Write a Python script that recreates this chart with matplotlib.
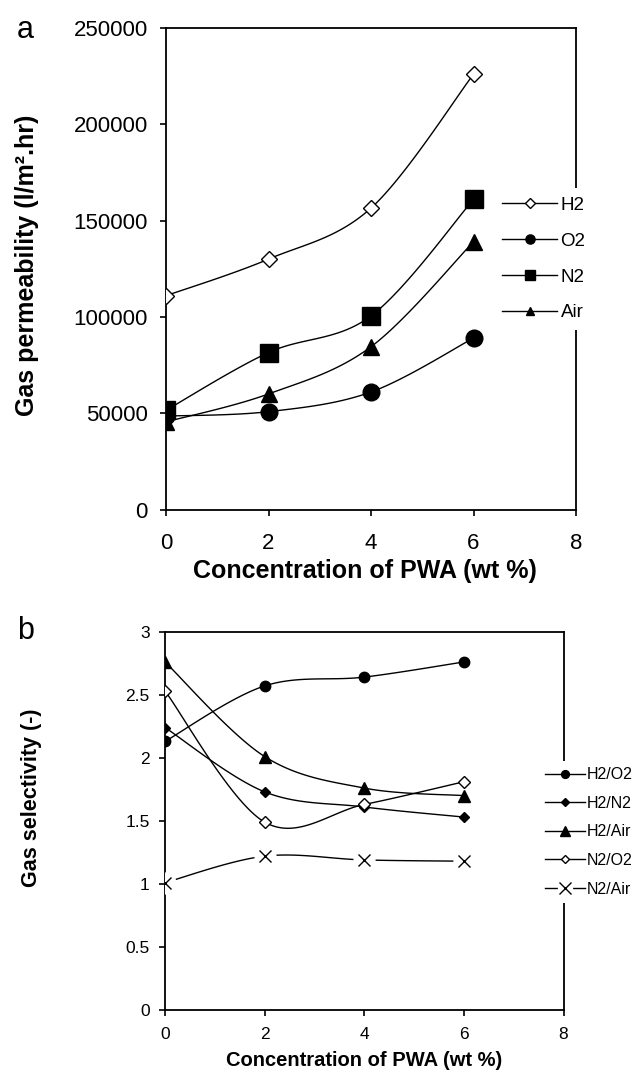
import numpy as np
import matplotlib
matplotlib.use('Agg')
import matplotlib.pyplot as plt
from matplotlib.lines import Line2D
from matplotlib.legend_handler import HandlerTuple
from matplotlib.ticker import FuncFormatter

plt.rcParams['font.family'] = ['Liberation Sans', 'DejaVu Sans']

# Painel a - permeabilidade
pwa = [0, 2, 4, 6]
h2 = [111000, 130000, 156500, 226000]
o2 = [48500, 50800, 61000, 89000]
n2 = [51500, 81500, 100500, 161000]
air = [45500, 60000, 84500, 139000]

# Painel b - seletividade
h2_o2 = [2.13, 2.57, 2.64, 2.76]
h2_n2 = [2.24, 1.73, 1.61, 1.53]
h2_air = [2.76, 2.01, 1.76, 1.70]
n2_o2 = [2.53, 1.49, 1.63, 1.81]
n2_air = [1.01, 1.22, 1.19, 1.18]

W, H = 632, 1071


def smooth(x, y, n=40):
    # curva suavizada (bezier tipo Excel) passando pelos pontos
    pts = np.column_stack([x, y]).astype(float)
    P = np.vstack([pts[0], pts, pts[-1]])
    segs = []
    t = np.linspace(0, 1, n)[:, None]
    for i in range(1, len(P) - 2):
        p0, p1, p2, p3 = P[i - 1], P[i], P[i + 1], P[i + 2]
        c1 = p1 + (p2 - p0) / 6
        c2 = p2 - (p3 - p1) / 6
        segs.append((1 - t)**3 * p1 + 3 * (1 - t)**2 * t * c1 + 3 * (1 - t) * t**2 * c2 + t**3 * p2)
    out = np.vstack(segs)
    return out[:, 0], out[:, 1]


def box(l, t, r, b):
    return [l / W, 1 - b / H, (r - l) / W, (b - t) / H]


def style(ax, fs, padx, pady):
    for s in ax.spines.values():
        s.set_linewidth(1.3)
    ax.tick_params(direction='out', length=4, width=1.2, labelsize=fs, top=False, right=False)
    ax.tick_params(axis='x', pad=padx)
    ax.tick_params(axis='y', pad=pady)
    ax.yaxis.set_major_formatter(FuncFormatter(lambda v, p: '%g' % v))
    ax.set_xlim(0, 8)
    ax.set_xticks([0, 2, 4, 6, 8])


fig = plt.figure(figsize=(W / 100, H / 100), dpi=100)

# === a ===
ax1 = fig.add_axes(box(166, 28, 576, 509.5))
series_a = [(h2, 'D', 'white', 8.5, 'H2'),
            (o2, 'o', 'black', 12, 'O2'),
            (n2, 's', 'black', 12.5, 'N2'),
            (air, '^', 'black', 11.5, 'Air')]
handles_a = []
for vals, m, fc, ms, lab in series_a:
    sx, sy = smooth(pwa, vals)
    ax1.plot(sx, sy, color='black', lw=1)
    ax1.plot(pwa, vals, ls='none', marker=m, mfc=fc, mec='black', mew=1, ms=ms, zorder=3)
    handles_a.append(Line2D([], [], color='black', lw=1, marker=m, mfc=fc, mec='black', ms=ms * 0.55))
ax1.set_ylim(0, 250000)
ax1.set_yticks(np.arange(0, 250001, 50000))
style(ax1, 16, 13, 9)
leg1 = ax1.legend(handles_a, [s[4] for s in series_a], loc='center left',
                  bbox_to_anchor=(494 / W, 1 - 259 / H), bbox_transform=fig.transFigure,
                  borderaxespad=0, borderpad=0.45, fontsize=13.5, handlelength=2.9,
                  handletextpad=0.2, labelspacing=1.0, frameon=True, fancybox=False)
leg1.get_frame().set_facecolor('white')
leg1.get_frame().set_edgecolor('none')
leg1.get_frame().set_alpha(1)

fig.text(25 / W, 1 - 30 / H, 'a', fontsize=22, ha='center', va='center')
fig.text(27 / W, 1 - 265.5 / H, 'Gas permeability (l/m².hr)', fontsize=18, fontweight='bold',
         rotation=90, ha='center', va='center')
fig.text(365 / W, 1 - 571 / H, 'Concentration of PWA (wt %)', fontsize=18, fontweight='bold',
         ha='center', va='center')

# === b ===
ax2 = fig.add_axes(box(165, 631.7, 563.5, 1010))
series_b = [(h2_o2, 'o', 'black', 7.5, 'H2/O2'),
            (h2_n2, 'D', 'black', 5.5, 'H2/N2'),
            (h2_air, '^', 'black', 9, 'H2/Air'),
            (n2_o2, 'D', 'white', 6, 'N2/O2')]
handles_b = []
for vals, m, fc, ms, lab in series_b:
    sx, sy = smooth(pwa, vals)
    ax2.plot(sx, sy, color='black', lw=1)
    ax2.plot(pwa, vals, ls='none', marker=m, mfc=fc, mec='black', mew=1, ms=ms, zorder=3)
    handles_b.append(Line2D([], [], color='black', lw=1, marker=m, mfc=fc, mec='black', ms=ms * 0.75))

# N2/Air: linha com falhas em volta do X
sx, sy = smooth(pwa, n2_air)
ax2.plot(sx, sy, color='black', lw=1)
ax2.plot(pwa, n2_air, ls='none', marker='o', mfc='white', mec='white', ms=15, zorder=3)
ax2.plot(pwa, n2_air, ls='none', marker='x', color='black', mew=1, ms=9, zorder=4)
handles_b.append((Line2D([], [], color='black', lw=1),
                  Line2D([], [], ls='none', marker='o', mfc='white', mec='white', ms=10),
                  Line2D([], [], ls='none', marker='x', color='black', mew=1, ms=8)))
labels_b = [s[4] for s in series_b] + ['N2/Air']

ax2.set_ylim(0, 3)
ax2.set_yticks(np.arange(0, 3.01, 0.5))
style(ax2, 12.5, 8, 7)
leg2 = ax2.legend(handles_b, labels_b, loc='center left',
                  bbox_to_anchor=(538.5 / W, 1 - 832 / H), bbox_transform=fig.transFigure,
                  borderaxespad=0, borderpad=0.4, fontsize=11.5, handlelength=2.5,
                  handletextpad=0.1, labelspacing=0.85, frameon=True, fancybox=False,
                  handler_map={tuple: HandlerTuple(ndivide=1)})
leg2.get_frame().set_facecolor('white')
leg2.get_frame().set_edgecolor('none')
leg2.get_frame().set_alpha(1)

fig.text(26 / W, 1 - 631 / H, 'b', fontsize=22, ha='center', va='center')
fig.text(32 / W, 1 - 798 / H, 'Gas selectivity (-)', fontsize=15.5, fontweight='bold',
         rotation=90, ha='center', va='center')
fig.text(364 / W, 1 - 1061 / H, 'Concentration of PWA (wt %)', fontsize=14.5, fontweight='bold',
         ha='center', va='center')

plt.savefig('out.png', dpi=100)
